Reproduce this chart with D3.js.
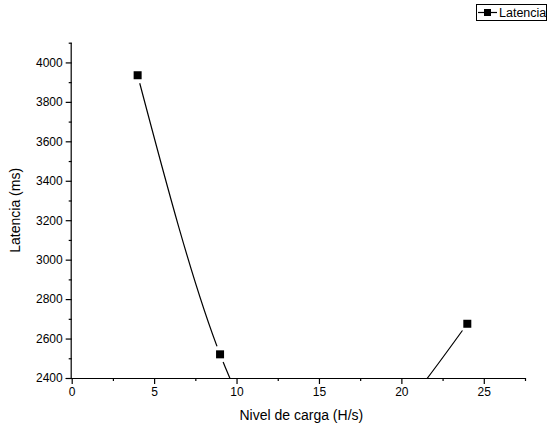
<!DOCTYPE html>
<html>
<head>
<meta charset="utf-8">
<script src="https://cdn.jsdelivr.net/npm/d3@7"></script>
<style>
  html, body { margin: 0; padding: 0; background: #fff; }
  svg { display: block; font-family: Arial, "Liberation Sans", sans-serif; }
</style>
</head>
<body>
<svg id="chart" width="547" height="430"></svg>
<script>
// ---- data ----
const cargaLevels = [4, 9, 14, 19, 24];          // Nivel de carga (H/s)
const latenciaValues = [3935, 2520, 1930, 2140, 2675]; // Latencia (ms); 14 and 19 fall below the visible range
const xTickValues = [0, 5, 10, 15, 20, 25];
const yTickValues = [2400, 2600, 2800, 3000, 3200, 3400, 3600, 3800, 4000];
const seriesName = "Latencia";
const xTitle = "Nivel de carga (H/s)";
const yTitle = "Latencia (ms)";

const data = cargaLevels.map((v, i) => ({ x: v, y: latenciaValues[i] }));

const svg = d3.select("#chart");
const pL = 71.7, pR = 525, pT = 42.7, pB = 378;

const x = d3.scaleLinear().domain([0, 27.5]).range([pL, pR]);
const y = d3.scaleLinear().domain([2400, 4100]).range([pB, pT]);

const defs = svg.append("defs");
defs.append("clipPath").attr("id", "plotClip")
  .append("rect").attr("x", pL).attr("y", pT - 10)
  .attr("width", pR - pL + 10).attr("height", pB - pT + 10);

// mask that leaves a gap in the line around each symbol
const mask = defs.append("mask").attr("id", "gapMask").attr("maskUnits", "userSpaceOnUse")
  .attr("x", 0).attr("y", 0).attr("width", 547).attr("height", 430);
mask.append("rect").attr("x", 0).attr("y", 0).attr("width", 547).attr("height", 430).attr("fill", "#fff");
mask.selectAll("circle").data(data).join("circle")
  .attr("cx", d => x(d.x)).attr("cy", d => y(d.y)).attr("r", 8.5).attr("fill", "#000");

const plot = svg.append("g").attr("clip-path", "url(#plotClip)");

const line = d3.line().x(d => x(d.x)).y(d => y(d.y)).curve(d3.curveNatural);
plot.append("g").attr("mask", "url(#gapMask)")
  .append("path").datum(data)
  .attr("d", line).attr("fill", "none").attr("stroke", "#000").attr("stroke-width", 1.2);

const ms = 8;
plot.selectAll("rect.pt").data(data).join("rect").attr("class", "pt")
  .attr("x", d => x(d.x) - ms / 2).attr("y", d => y(d.y) - ms / 2)
  .attr("width", ms).attr("height", ms).attr("fill", "#000");

// ---- axes ----
const xAxis = d3.axisBottom(x).tickValues(xTickValues).tickFormat(d3.format("d")).tickSize(6).tickPadding(3);
const xMinor = d3.axisBottom(x).tickValues([2.5, 7.5, 12.5, 17.5, 22.5, 27.5]).tickFormat("").tickSize(3);
const yAxis = d3.axisLeft(y).tickValues(yTickValues).tickFormat(d3.format("d")).tickSize(6).tickPadding(3);
const yMinor = d3.axisLeft(y).tickValues([2500, 2700, 2900, 3100, 3300, 3500, 3700, 3900, 4100]).tickFormat("").tickSize(3);

function styleAxis(g) {
  g.select(".domain").attr("stroke", "#000").attr("stroke-width", 1.2);
  g.selectAll(".tick line").attr("stroke", "#000").attr("stroke-width", 1.2);
  g.selectAll(".tick text").attr("fill", "#000").style("font-size", "12px");
}

const gx = svg.append("g").attr("transform", `translate(0,${pB})`).call(xAxis).call(styleAxis);
gx.select(".domain").attr("d", `M${pL - 6},0.5H${pR}`);
svg.append("g").attr("transform", `translate(0,${pB})`).call(xMinor).call(styleAxis)
  .select(".domain").remove();

const gy = svg.append("g").attr("transform", `translate(${pL},0)`).call(yAxis).call(styleAxis);
gy.select(".domain").attr("d", `M-0.5,${pB}V${pT}`);
svg.append("g").attr("transform", `translate(${pL},0)`).call(yMinor).call(styleAxis)
  .select(".domain").remove();

// ---- titles ----
svg.append("text").attr("x", (pL + pR) / 2 + 3).attr("y", 420)
  .attr("text-anchor", "middle").style("font-size", "14px").attr("fill", "#000").text(xTitle);
svg.append("text").attr("transform", `translate(20,${(pT + pB) / 2}) rotate(-90)`)
  .attr("text-anchor", "middle").style("font-size", "14px").attr("fill", "#000").text(yTitle);

// ---- legend ----
const lg = svg.append("g");
lg.append("rect").attr("x", 476.5).attr("y", 4.5).attr("width", 70).attr("height", 16)
  .attr("fill", "#fff").attr("stroke", "#000").attr("stroke-width", 1);
lg.append("line").attr("x1", 478).attr("x2", 497).attr("y1", 12.5).attr("y2", 12.5).attr("stroke", "#000").attr("stroke-width", 1.2);
lg.append("rect").attr("x", 484).attr("y", 9).attr("width", 7).attr("height", 7).attr("fill", "#000");
lg.append("text").attr("x", 499).attr("y", 17).style("font-size", "12.5px").attr("fill", "#000").text(seriesName);
</script>
</body>
</html>
